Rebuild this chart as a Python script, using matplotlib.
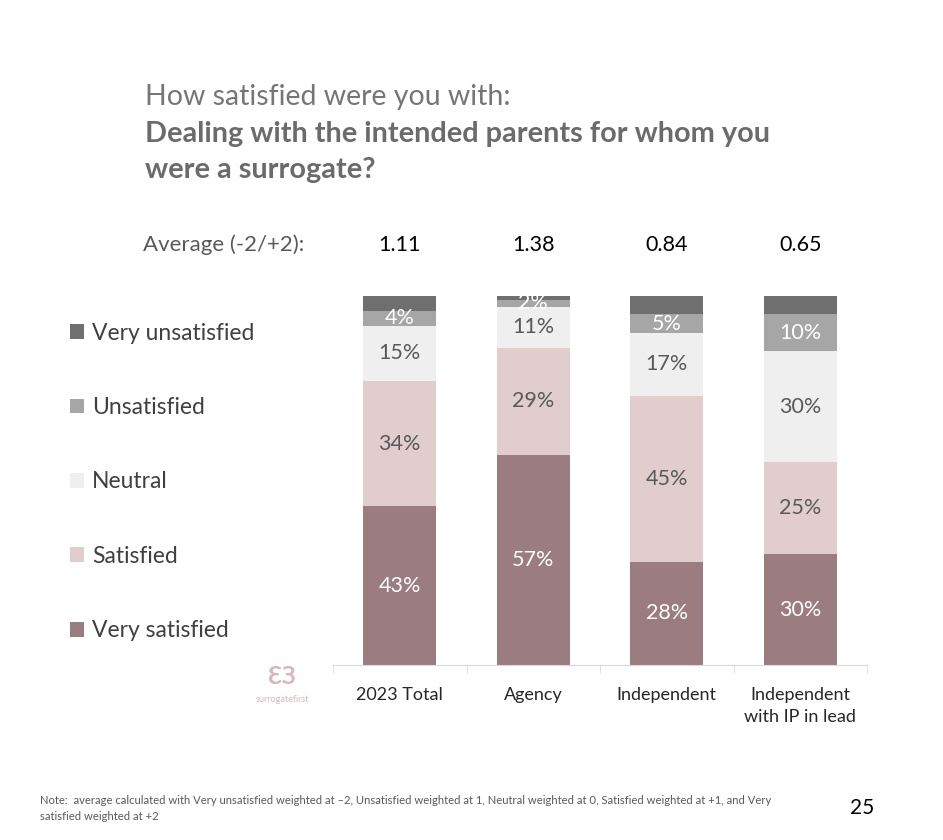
import numpy as np
import matplotlib
matplotlib.use("Agg")
import matplotlib.pyplot as plt

plt.rcParams['font.family'] = ['Lato', 'DejaVu Sans']

# data
categories = ["2023 Total", "Agency", "Independent", "Independent\nwith IP in lead"]
averages = ["1.11", "1.38", "0.84", "0.65"]
levels = ["Very satisfied", "Satisfied", "Neutral", "Unsatisfied", "Very unsatisfied"]
very_satisfied = [43, 57, 28, 30]
satisfied = [34, 29, 45, 25]
neutral = [15, 11, 17, 30]
unsatisfied = [4, 2, 5, 10]
very_unsatisfied = [4, 1, 5, 5]

series = [very_satisfied, satisfied, neutral, unsatisfied, very_unsatisfied]
colors = ["#9b7c80", "#e2cdce", "#efefef", "#a6a6a6", "#6f6f6f"]
label_colors = ["white", "#595959", "#595959", "white", None]

fig = plt.figure(figsize=(9.43, 8.4), dpi=100)
ax = fig.add_axes([333 / 943, 1 - 665 / 840, 534 / 943, 369 / 840])

x = np.arange(len(categories))
bottom = np.zeros(len(categories))
handles = []
for vals, col, lc, name in zip(series, colors, label_colors, levels):
    vals = np.array(vals, dtype=float)
    b = ax.bar(x, vals, 0.546, bottom=bottom, color=col, label=name)
    handles.append(b)
    if lc is not None:
        for xi, v, bt in zip(x, vals, bottom):
            ax.text(xi, bt + v / 2, f"{int(v)}%", ha="center", va="center",
                    color=lc, fontsize=15.5)
    bottom += vals

ax.set_xlim(-0.5, len(categories) - 0.5)
ax.set_ylim(0, 100)
ax.set_yticks([])
for s in ["top", "right", "left"]:
    ax.spines[s].set_visible(False)
ax.spines["bottom"].set_color("#d9d9d9")
ax.set_xticks(x)
ax.set_xticklabels(categories, fontsize=13, color="#262626", linespacing=1.45)
ax.tick_params(axis="x", length=0, pad=16)
# category divider ticks
ax.set_xticks(np.arange(-0.5, len(categories)), minor=True)
ax.tick_params(axis="x", which="minor", length=6, color="#d9d9d9")

# averages row
fig.text(143 / 943, 1 - 245 / 840, "Average (-2/+2):", fontsize=16, color="#595959", va="center")
for xi, a in zip(x, averages):
    xf = ax.transData.transform((xi, 0))[0] / fig.bbox.width
    fig.text(xf, 1 - 245 / 840, a, fontsize=15.5, color="black", ha="center", va="center")

# title
fig.text(145 / 943, 1 - 97 / 840, "How satisfied were you with:", fontsize=20.5,
         color="#767676", va="center")
fig.text(145 / 943, 1 - 134 / 840, "Dealing with the intended parents for whom you",
         fontsize=20.8, color="#6b6b6b", fontweight="bold", va="center")
fig.text(145 / 943, 1 - 170 / 840, "were a surrogate?", fontsize=20.8,
         color="#6b6b6b", fontweight="bold", va="center")

# legend
fig.legend(handles[::-1], levels[::-1], loc="upper left",
           bbox_to_anchor=(49 / 943, 1 - 302 / 840), frameon=False,
           fontsize=16.5, labelspacing=2.33, handlelength=0.62, handleheight=0.62,
           handletextpad=0.35, labelcolor="#404040")

# logo
fig.text(282 / 943, 1 - 676 / 840, "ƐЗ", fontsize=17, color="#d8b6bb",
         ha="center", va="center", fontweight="bold")
fig.text(282 / 943, 1 - 699 / 840, "surrogatefirst", fontsize=6.5, color="#d8b6bb",
         ha="center", va="center")

# note
fig.text(40 / 943, 1 - 800 / 840,
         "Note:  average calculated with Very unsatisfied weighted at \u20132, Unsatisfied weighted at 1, "
         "Neutral weighted at 0, Satisfied weighted at +1, and Very",
         fontsize=8.1, color="#595959", va="center")
fig.text(40 / 943, 1 - 816 / 840, "satisfied weighted at +2",
         fontsize=8.1, color="#595959", va="center")
fig.text(862 / 943, 1 - 808 / 840, "25", fontsize=15, color="black", ha="center", va="center")

fig.savefig("out.png", dpi=100)
